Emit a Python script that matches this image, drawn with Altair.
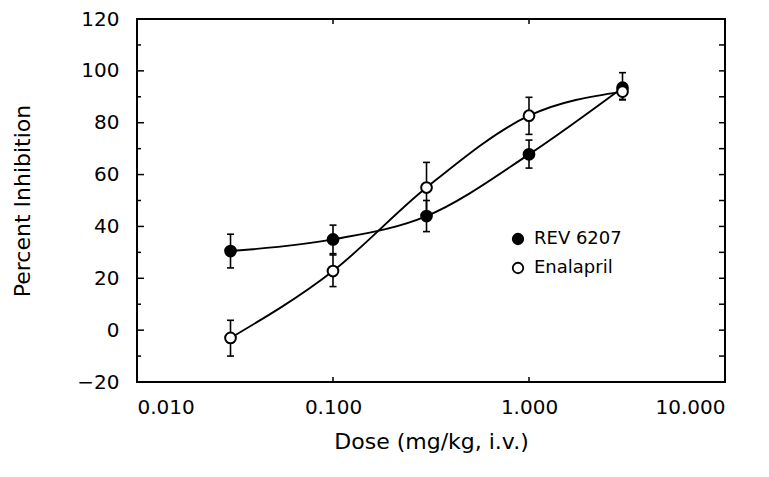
import altair as alt
import pandas as pd

dose = [0.03, 0.1, 0.3, 1.0, 3.0]
series = ["REV 6207", "Enalapril"]
rev_mean = [30.5, 35.0, 44.0, 67.8, 93.5]
rev_hi = [37.0, 40.5, 50.0, 73.3, 99.3]
rev_lo = [24.0, 29.5, 38.0, 62.5, 88.8]
ena_mean = [-3.0, 22.8, 55.0, 82.7, 92.0]
ena_hi = [3.8, 29.0, 64.7, 89.8, 95.0]
ena_lo = [-10.0, 16.8, 45.0, 75.5, 89.0]

x_major = [0.01, 0.1, 1, 10]
x_inner = [0.1, 1]
y_major = [-20, 0, 20, 40, 60, 80, 100, 120]
y_major_inner = [0, 20, 40, 60, 80, 100]
y_minor = [-10, 10, 30, 50, 70, 90, 110]
y_right = [-10, 0, 10, 20, 30, 40, 50, 60, 70, 80, 90, 100, 110]

rows = []
for name, m, lo, hi in [(series[0], rev_mean, rev_lo, rev_hi), (series[1], ena_mean, ena_lo, ena_hi)]:
    for d, mv, l, h in zip(dose, m, lo, hi):
        rows.append({"drug": name, "dose": d, "mean": mv, "lo": l, "hi": h})
df = pd.DataFrame(rows)
caps = pd.concat([
    df[["drug", "dose", "lo"]].rename(columns={"lo": "v"}),
    df[["drug", "dose", "hi"]].rename(columns={"hi": "v"}),
])

W, H = 588, 363
FONT = "DejaVu Sans"
xs = alt.Scale(type="log", domain=[0.01, 10], nice=False)
ys = alt.Scale(domain=[-20, 120], nice=False, zero=False)

lines = alt.Chart(df).mark_line(interpolate="monotone", color="black", strokeWidth=1.9).encode(
    x=alt.X("dose:Q", scale=xs, axis=alt.Axis(
        orient="bottom", values=x_major, format=".3f", ticks=False, domain=False,
        grid=False, labelPadding=15, labelFontSize=20, labelColor="black",
        labelFont=FONT, title="Dose (mg/kg, i.v.)", titleFont=FONT,
        titleFontSize=22, titleFontWeight="normal", titlePadding=14, titleColor="black")),
    y=alt.Y("mean:Q", scale=ys, axis=alt.Axis(
        orient="left", values=y_major, ticks=False, domain=False, grid=False,
        labelPadding=18, labelFontSize=20, labelColor="black", labelFont=FONT,
        title="Percent Inhibition", titleFont=FONT, titleFontSize=22,
        titleFontWeight="normal", titlePadding=42, titleColor="black")),
    detail="drug:N",
)

# inward tick marks, positioned by the shared scales
def ytick(vals, x0, x1):
    return alt.Chart(pd.DataFrame({"v": vals})).mark_rule(color="black", strokeWidth=1.5).encode(
        y=alt.Y("v:Q", scale=ys, axis=None), x=alt.value(x0), x2=alt.value(x1))

def xtick(vals, y0, y1):
    return alt.Chart(pd.DataFrame({"v": vals})).mark_rule(color="black", strokeWidth=1.5).encode(
        x=alt.X("v:Q", scale=xs, axis=None), y=alt.value(y0), y2=alt.value(y1))

ticks = [
    ytick(y_major_inner, 0, 7),
    ytick(y_minor, 0, 4),
    ytick(y_right, W - 6, W),
    xtick(x_inner, H - 5, H),
    xtick(x_inner, 0, 5),
]

bars = alt.Chart(df).mark_rule(color="black", strokeWidth=1.6).encode(
    x=alt.X("dose:Q", scale=xs, axis=None),
    y=alt.Y("lo:Q", scale=ys, axis=None),
    y2="hi:Q",
)

capmarks = alt.Chart(caps).mark_tick(orient="horizontal", size=7, thickness=1.6, color="black", opacity=1).encode(
    x=alt.X("dose:Q", scale=xs, axis=None),
    y=alt.Y("v:Q", scale=ys, axis=None),
)

points = alt.Chart(df).mark_point(shape="circle", filled=True, stroke="black",
                                  strokeWidth=2, size=115, opacity=1).encode(
    x=alt.X("dose:Q", scale=xs, axis=None),
    y=alt.Y("mean:Q", scale=ys, axis=None),
    fill=alt.Fill("drug:N", scale=alt.Scale(domain=series, range=["black", "white"]),
                  legend=alt.Legend(orient="none", legendX=372, legendY=211, title=None,
                                    labelFontSize=18, labelFont=FONT, labelColor="black",
                                    symbolSize=110, symbolStrokeColor="black",
                                    symbolStrokeWidth=1.8, labelOffset=7, rowPadding=11,
                                    padding=0, symbolType="circle")),
)

chart = alt.layer(lines, *ticks, bars, capmarks, points).resolve_axis(
    x="independent", y="independent"
).properties(
    width=W, height=H,
    background="white",
    autosize=alt.AutoSizeParams(type="none"),
    padding={"left": 129, "top": 11, "right": 36, "bottom": 80},
).configure_view(stroke="black", strokeWidth=2)

chart.save("out.html", embed_options={"renderer": "svg", "actions": False})
